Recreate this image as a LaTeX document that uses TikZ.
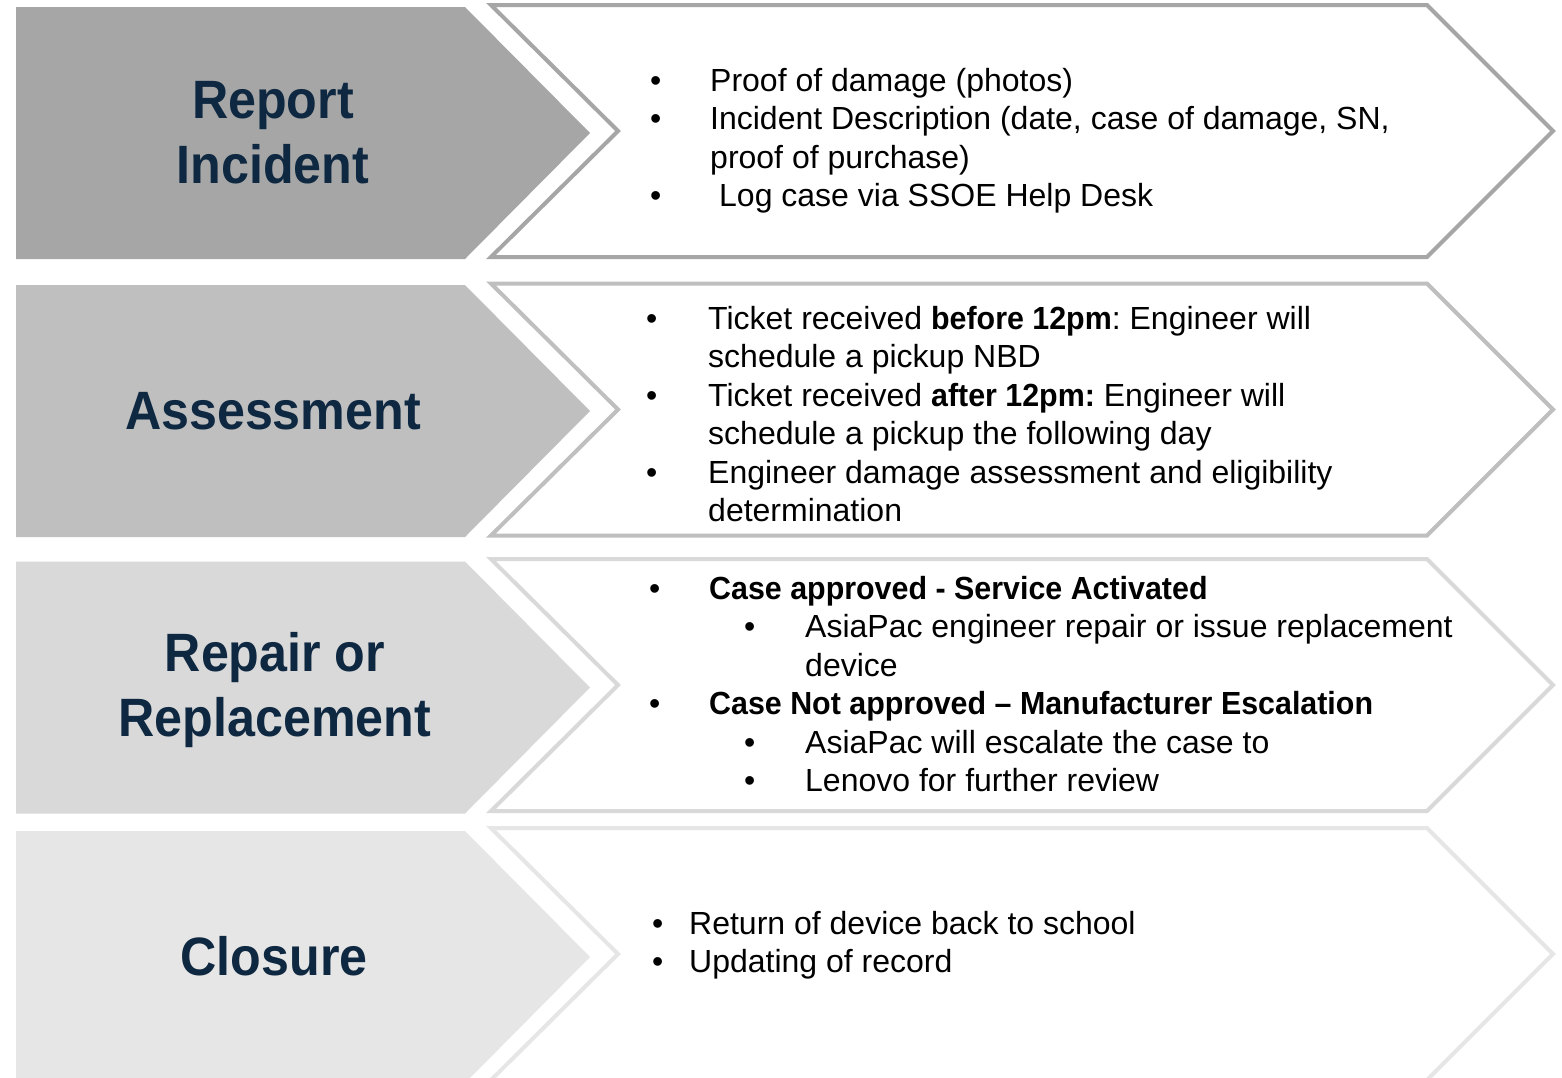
\documentclass[tikz,border=0pt]{standalone}
\usepackage{fontspec}
\setmainfont{Liberation Sans}
\newfontfamily\titlefont{Liberation Sans}[FakeStretch=0.93]
\newfontfamily\boldbodyfont{Liberation Sans}[FakeStretch=0.95]
\newcommand\bodybf[1]{{\boldbodyfont\bfseries #1}}
\definecolor{gA}{HTML}{A6A6A6}
\definecolor{gB}{HTML}{BFBFBF}
\definecolor{gC}{HTML}{D9D9D9}
\definecolor{gD}{HTML}{E7E6E6}
\definecolor{navy}{HTML}{0E2841}
\frenchspacing
\begin{document}
\begin{tikzpicture}[x=1pt,y=-1pt,
  titletext/.style={font=\titlefont\bfseries\fontsize{54}{65}\selectfont, text=navy, align=center, inner sep=0pt},
  bodytext/.style={font=\fontsize{32}{38.5}\selectfont, text=black, anchor=north west, align=left, inner sep=0pt}]
\useasboundingbox (0,0) rectangle (1562,1077);
\clip (0,0) rectangle (1562,1077);
\fill[white] (0,0) rectangle (1562,1077);
% chevrons
\foreach \lc/\oc/\col in {133/131/gA, 411/409.5/gB, 687.5/685/gC, 957/954/gD}{
  \fill[\col] (16,\lc-126) -- (465,\lc-126) -- (590,\lc) -- (465,\lc+126) -- (16,\lc+126) -- cycle;
  \draw[\col, line width=4pt, line join=miter] (491,\oc-126) -- (1427,\oc-126) -- (1553,\oc) -- (1427,\oc+126) -- (491,\oc+126) -- (618,\oc) -- cycle;
}
% titles
\node[titletext] (t1) at (273,133) {Report\\Incident};
\node[titletext] (t2) at (273,411) {Assessment};
\node[titletext] (t3) at (275,690) {Repair or\\Replacement};
\node[titletext] (t4) at (274,956) {Closure};
% body texts
\node[bodytext] (b1) at (650,64) {\strut\makebox[60pt][l]{•}Proof of damage (photos)\\
\strut\makebox[60pt][l]{•}Incident Description (date, case of damage, SN,\\
\strut\hspace*{60pt}proof of purchase)\\
\strut\makebox[69pt][l]{•}Log case via SSOE Help Desk};
\node[bodytext] (b2) at (646,302) {\strut\makebox[62pt][l]{•}Ticket received \bodybf{before 12pm}: Engineer will\\
\strut\hspace*{62pt}schedule a pickup NBD\\
\strut\makebox[62pt][l]{•}Ticket received \bodybf{after 12pm:} Engineer will\\
\strut\hspace*{62pt}schedule a pickup the following day\\
\strut\makebox[62pt][l]{•}Engineer damage assessment and eligibility\\
\strut\hspace*{62pt}determination};
\node[bodytext] (b3) at (649,572) {\strut\makebox[60pt][l]{•}\bodybf{Case approved - Service Activated}\\
\strut\hspace*{95pt}\makebox[61pt][l]{•}AsiaPac engineer repair or issue replacement\\
\strut\hspace*{156pt}device\\
\strut\makebox[60pt][l]{•}\bodybf{Case Not approved – Manufacturer Escalation}\\
\strut\hspace*{95pt}\makebox[61pt][l]{•}AsiaPac will escalate the case to\\
\strut\hspace*{95pt}\makebox[61pt][l]{•}Lenovo for further review};
\node[bodytext] (b4) at (652,907) {\strut\makebox[37pt][l]{•}Return of device back to school\\
\strut\makebox[37pt][l]{•}Updating of record};
\end{tikzpicture}
\end{document}
